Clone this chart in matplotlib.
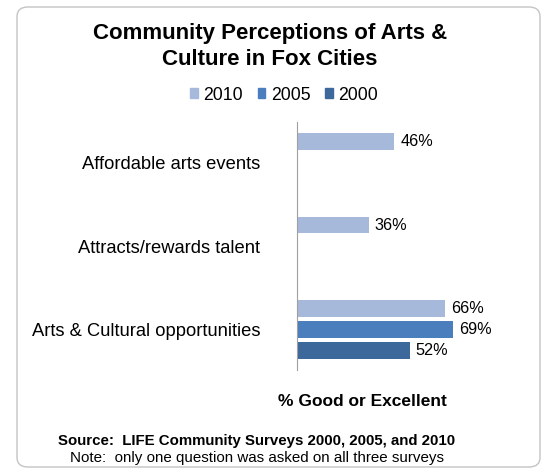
import numpy as np
import matplotlib
matplotlib.use("Agg")
import matplotlib.pyplot as plt
from matplotlib.patches import FancyBboxPatch

plt.rcParams['font.family'] = ['Liberation Sans', 'DejaVu Sans']

categories = ["Affordable arts events", "Attracts/rewards talent", "Arts & Cultural opportunities"]
years = ["2010", "2005", "2000"]
values = {
    "2010": [46, 36, 66],
    "2005": [None, None, 69],
    "2000": [None, None, 52],
}
colors = {"2010": "#A7B9DA", "2005": "#4A7EBD", "2000": "#3D689C"}

fig = plt.figure(figsize=(5.48, 4.70), dpi=100)
ax = fig.add_axes([297 / 548, 1 - 370 / 470, 222 / 548, 248 / 470])

y = np.arange(len(categories))
offsets = {"2010": -0.25, "2005": 0.0, "2000": 0.25}
for yr in years:
    for i, v in enumerate(values[yr]):
        if v is None:
            continue
        ax.barh(y[i] + offsets[yr], v, height=0.2, color=colors[yr], left=0)
        ax.text(v + 2.3, y[i] + offsets[yr], f"{v}%", va="center", ha="left", fontsize=11.7)

ax.set_xlim(7.7, 95)
ax.set_ylim(2.48, -0.48)
ax.set_yticks(y)
ax.set_yticklabels(categories, fontsize=13.2)
ax.tick_params(axis="y", length=0, pad=26.5)
ax.set_xticks([])
for s in ["top", "right", "bottom"]:
    ax.spines[s].set_visible(False)
ax.spines["left"].set_color("#A0A0A0")
ax.spines["left"].set_linewidth(0.8)

# title and legend
fig.text(270 / 548, 1 - 39 / 470, "Community Perceptions of Arts &", ha="center", va="baseline",
         fontsize=16, fontweight="bold")
fig.text(270 / 548, 1 - 65 / 470, "Culture in Fox Cities", ha="center", va="baseline",
         fontsize=16, fontweight="bold")
handles = [plt.Rectangle((0, 0), 1, 1, color=colors[yr]) for yr in years]
fig.legend(handles, years, loc="center", bbox_to_anchor=(284 / 548, 1 - 95 / 470), ncol=3,
           frameon=False, fontsize=12.7, handlelength=0.45, handleheight=0.45,
           handletextpad=0.3, columnspacing=0.85)

fig.text(362 / 548, 1 - 402 / 470, "% Good or Excellent", ha="center", va="center",
         fontsize=12.5, fontweight="bold")
fig.text(257 / 548, 1 - 441 / 470, "Source:  LIFE Community Surveys 2000, 2005, and 2010",
         ha="center", va="center", fontsize=10.8, fontweight="bold")
fig.text(257 / 548, 1 - 458 / 470, "Note:  only one question was asked on all three surveys",
         ha="center", va="center", fontsize=10.9)

# rounded border around the chart
border = FancyBboxPatch((17 / 548, 3 / 470), 523 / 548, 460 / 470,
                        boxstyle="round,pad=0,rounding_size=0.02",
                        transform=fig.transFigure, fill=False, edgecolor="#C4C4C4", linewidth=1)
fig.patches.append(border)

fig.savefig("out.png", dpi=100)
